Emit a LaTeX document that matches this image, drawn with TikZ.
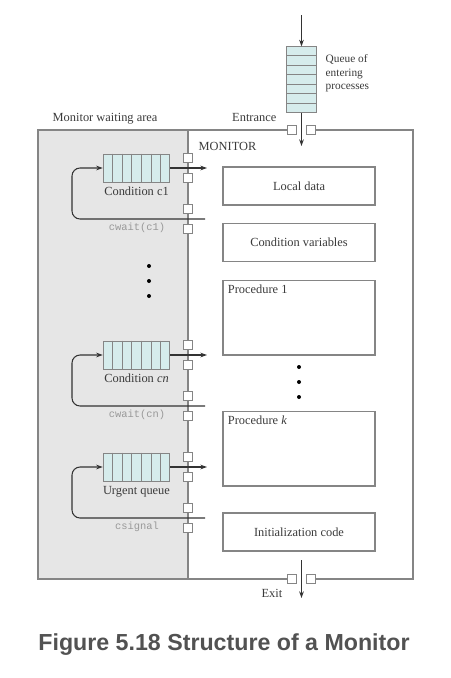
\documentclass[tikz,border=0pt]{standalone}
\usepackage{fontspec}
\setmainfont{Liberation Serif}
\setmonofont{Liberation Mono}
\setsansfont{Liberation Sans}
\usetikzlibrary{arrows.meta,positioning,calc}
\definecolor{qfill}{HTML}{D6ECEC}
\definecolor{areagray}{HTML}{E6E6E6}
\definecolor{linegray}{HTML}{858585}
\definecolor{txt}{HTML}{3A3A3A}
\begin{document}
\begin{tikzpicture}[
       x=0.75pt, y=-0.75pt,
       font=\fontsize{9.3}{11}\selectfont, text=txt,
       frame/.style={draw=linegray, line width=0.8pt},
       box/.style={rectangle, draw=linegray, line width=1pt, minimum width=114pt, minimum height=28.5pt, inner sep=0pt},
       procbox/.style={box, minimum height=56pt},
       port/.style={rectangle, draw=linegray, fill=white, line width=0.6pt, minimum size=7pt, inner sep=0pt},
       hqueue/.style={rectangle, draw=linegray, fill=qfill, line width=0.6pt, minimum width=50pt, minimum height=21pt, inner sep=0pt},
       vqueue/.style={rectangle, draw=linegray, fill=qfill, line width=0.6pt, minimum width=22pt, minimum height=49pt, inner sep=0pt},
       cell/.style={draw=linegray, line width=0.6pt},
       arrow/.style={-{Stealth[length=5pt,width=3.5pt]}, line width=0.8pt, draw=black!80},
       back/.style={arrow, rounded corners=6pt},
       code/.style={font=\fontsize{7.8}{9}\ttfamily, text=black!40},
       dot/.style={circle, fill=black, inner sep=0pt, minimum size=3pt}
   ]
   \useasboundingbox (0,0) rectangle (450,678);
   \fill[areagray] (38,130) rectangle (188,579);

   \node[port] (entl) at (292,130) {};
   \node[port] (entr) at (311,130) {};
   \node[port] (exitl) at (292,579) {};
   \node[port] (exitr) at (311,579) {};
   \draw[frame] (entl.west) -- (38,130) -- (38,579) -- (exitl.west);
   \draw[frame] (entr.east) -- (413,130) -- (413,579) -- (exitr.east);
   \draw[frame] (188,130) -- (188,579);

   \node[vqueue] (entq) at (301.5,79.5) {};
   \foreach \i in {1,...,6}
     \draw[cell] ($(entq.north west)!\i/7!(entq.south west)$) -- ($(entq.north east)!\i/7!(entq.south east)$);
   \coordinate (entin) at (301.5,15);
   \coordinate (entout) at (301.5,146);
   \draw[arrow] (entin) -- (entq.north);
   \draw[arrow] (entq.south) -- (entout);
   \coordinate (exitin) at (301.5,560);
   \coordinate (exitout) at (301.5,598);
   \draw[arrow] (exitin) -- (exitout);

   \node[anchor=north west, align=left, font=\fontsize{8.5}{10}\selectfont] (queuelbl) at (321,50) {Queue of\\entering\\processes};
   \node[anchor=east] (entlbl) at (281,117) {Entrance};
   \node[anchor=east] (exitlbl) at (287,593) {Exit};
   \node[anchor=west] (waitlbl) at (48,119) {Monitor waiting area};
   \node[anchor=west] (monlbl) at (194,146) {MONITOR};

   \foreach \n/\a/\lbl/\cmd in {c1/168/Condition c1/cwait(c1), cn/355/Condition \textit{cn}/cwait(cn), urg/467/Urgent queue/csignal} {
     \node[hqueue] (q\n) at (136.5,\a) {};
     \foreach \i in {1,...,6}
       \draw[cell] ($(q\n.north west)!\i/7!(q\n.north east)$) -- ($(q\n.south west)!\i/7!(q\n.south east)$);
     \node[below=0pt of q\n] (l\n) {\lbl};
     \node[port] (o\n a) at (188,\a-10) {};
     \node[port] (o\n b) at (188,\a+10) {};
     \node[port] (r\n a) at (188,\a+41) {};
     \node[port] (r\n b) at (188,\a+61) {};
     \coordinate (out\n) at (207,\a);
     \coordinate (ret\n) at (205,\a+51);
     \coordinate (turn\n) at (72,\a+51);
     \draw[arrow] (q\n.east) -- (out\n);
     \draw[back] (ret\n) -- (turn\n) |- (q\n.west);
     \node[code] (c\n) at (137,\a+60) {\cmd};
   }

   \foreach \y [count=\k] in {266,281,296}
     \node[dot] (ldot\k) at (149,\y) {};
   \foreach \y [count=\k] in {367,382,397}
     \node[dot] (rdot\k) at (299,\y) {};

   \node[box] (local) at (299,186) {Local data};
   \node[box] (condvar) at (299,242.5) {Condition variables};
   \node[procbox] (proc1) at (299,317.5) {};
   \node[procbox] (prock) at (299,448.5) {};
   \node[box] (init) at (299,532) {Initialization code};
   \node[anchor=north west, inner sep=4pt] (proc1lbl) at (proc1.north west) {Procedure 1};
   \node[anchor=north west, inner sep=4pt] (proclbl) at (prock.north west) {Procedure \textit{k}};

   \node[font=\sffamily\bfseries\fontsize{17.4}{20}\selectfont, text=black!68] (caption) at (224,645) {Figure 5.18 Structure of a Monitor};
\end{tikzpicture}
\end{document}
